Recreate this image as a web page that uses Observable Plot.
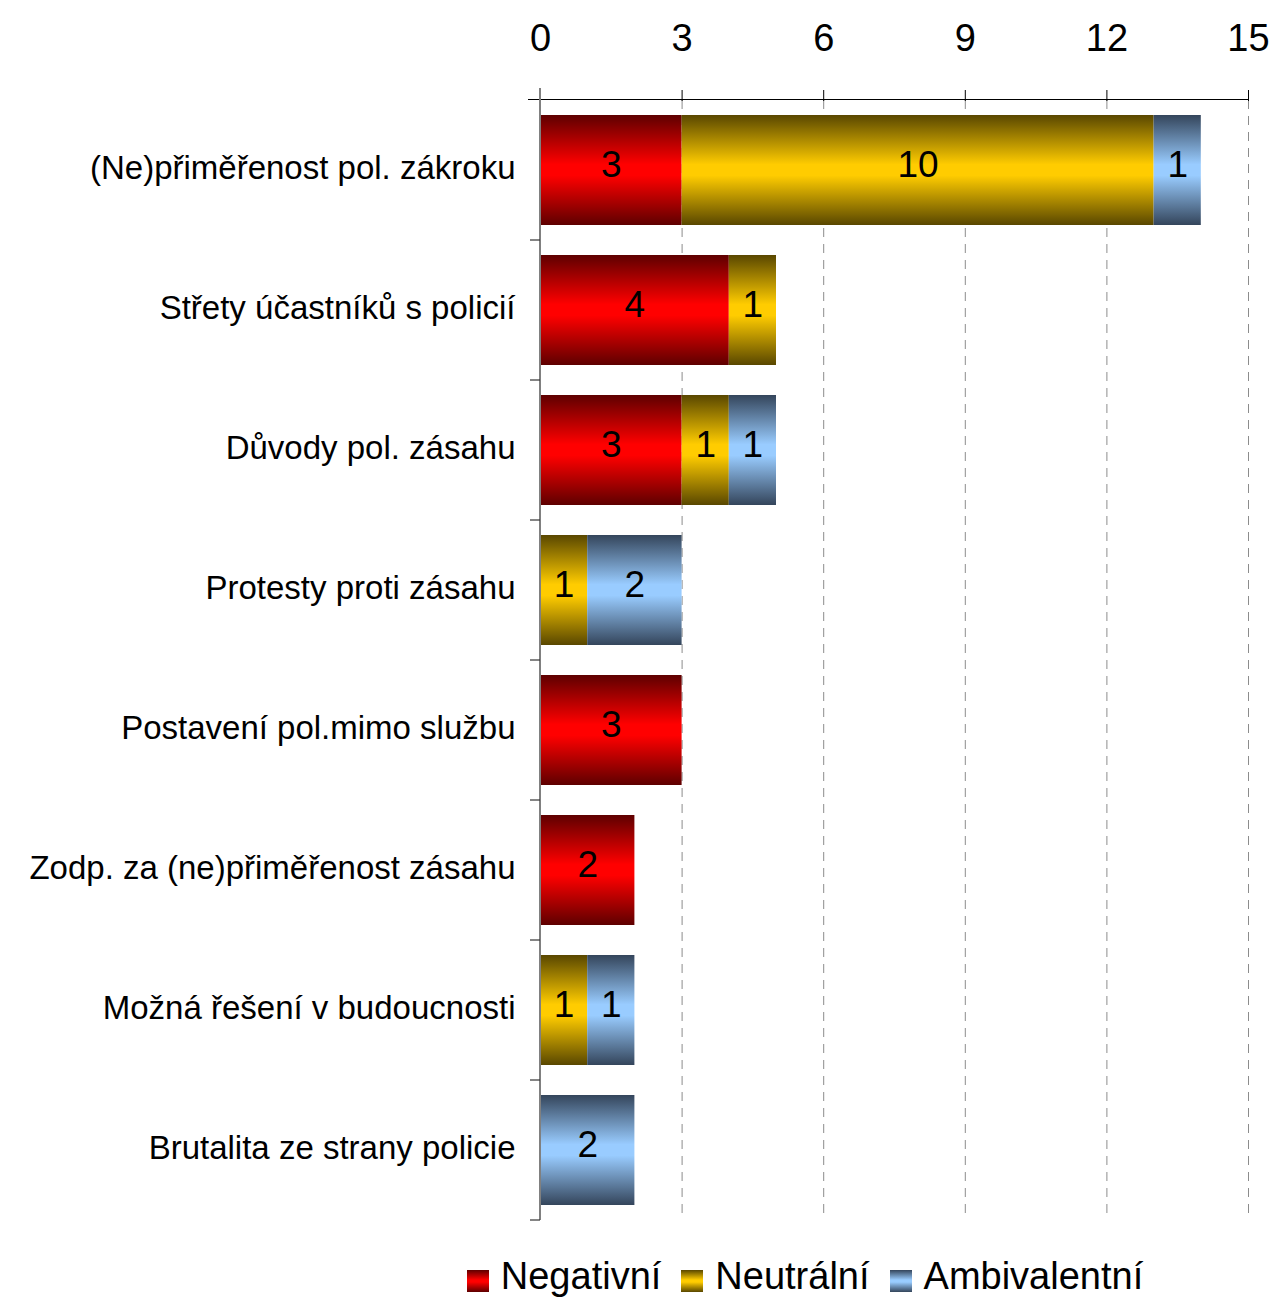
<!DOCTYPE html>
<html>
<head>
<meta charset="utf-8">
<script src="https://cdn.jsdelivr.net/npm/d3@7"></script>
<script src="https://cdn.jsdelivr.net/npm/@observablehq/plot@0.6"></script>
<style>
  body { margin: 0; background: #fff; font-family: "Liberation Sans", Arial, sans-serif; }
  #legend { display: flex; justify-content: center; align-items: center; height: 57px; padding-left: 355px; padding-top: 15px; box-sizing: border-box; width: 1275px; }
  .item { display: flex; align-items: center; margin-right: 20px; font-size: 38px; line-height: 44px; color: #000; }
  .item svg { margin-right: 12px; margin-top: 10px; }
</style>
</head>
<body>
<div id="chart"></div>
<div id="legend"></div>
<script>
const categories = [
  "(Ne)přiměřenost pol. zákroku",
  "Střety účastníků s policií",
  "Důvody pol. zásahu",
  "Protesty proti zásahu",
  "Postavení pol.mimo službu",
  "Zodp. za (ne)přiměřenost zásahu",
  "Možná řešení v budoucnosti",
  "Brutalita ze strany policie"
];
const seriesNames = ["Negativní", "Neutrální", "Ambivalentní"];
const negativni = [3, 4, 3, 0, 3, 2, 0, 0];
const neutralni = [10, 1, 1, 1, 0, 0, 1, 0];
const ambivalentni = [1, 0, 1, 2, 0, 0, 1, 2];
const xTicks = [0, 3, 6, 9, 12, 15];

const seriesValues = [negativni, neutralni, ambivalentni];
const gradIds = ["gNeg", "gNeu", "gAmb"];
const gradColors = [
  ["#5e0000", "#ff0000"],
  ["#594700", "#ffcc00"],
  ["#34455b", "#99ccff"]
];

const data = [];
seriesNames.forEach((s, si) => {
  categories.forEach((c, ci) => {
    const v = seriesValues[si][ci];
    if (v > 0) data.push({category: c, series: s, value: v});
  });
});

const font = "Liberation Sans, Arial, sans-serif";

const axisFrame = (index, scales, values, dims) => {
  const {x} = scales;
  const {height, marginTop, marginBottom} = dims;
  const g = d3.create("svg:g");
  const x0 = x(0);
  const step = (height - marginTop - marginBottom) / categories.length;
  g.append("line")
    .attr("x1", x0 - 12).attr("x2", x(15))
    .attr("y1", marginTop - 0.5).attr("y2", marginTop - 0.5)
    .attr("stroke", "#000").attr("stroke-width", 1.2);
  g.append("line")
    .attr("x1", x0).attr("x2", x0)
    .attr("y1", marginTop - 12).attr("y2", height - marginBottom)
    .attr("stroke", "#808080").attr("stroke-width", 2);
  for (let i = 1; i <= categories.length; i++) {
    const yy = marginTop + i * step;
    g.append("line")
      .attr("x1", x0 - 10).attr("x2", x0)
      .attr("y1", yy).attr("y2", yy)
      .attr("stroke", "#333").attr("stroke-width", 1.2);
  }
  return g.node();
};

const chart = Plot.plot({
  width: 1275,
  height: 1240,
  marginTop: 100,
  marginBottom: 20,
  marginLeft: 540,
  marginRight: 27,
  style: {fontFamily: font, background: "#fff", color: "#000"},
  x: {domain: [0, 15], axis: null},
  y: {domain: categories, paddingInner: 0.214, paddingOuter: 0.107, axis: null},
  color: {domain: seriesNames, range: gradIds.map(id => `url(#${id})`)},
  marks: [
    Plot.gridX(xTicks.slice(1), {stroke: "#8c8c8c", strokeOpacity: 1, strokeDasharray: "9,7", strokeWidth: 1}),
    Plot.barX(data, Plot.stackX({x: "value", y: "category", fill: "series", z: "series", order: seriesNames})),
    Plot.text(data, Plot.stackX({x: "value", y: "category", z: "series", order: seriesNames, text: d => String(d.value), fontSize: 37, dy: -5, fill: "#000"})),
    Plot.axisX(xTicks, {anchor: "top", tickSize: 11, tickPadding: 39, fontSize: 38, stroke: "#000", fill: "#000", label: null}),
    Plot.axisY({anchor: "left", tickSize: 0, tickPadding: 25, fontSize: 33, dy: -2, fill: "#000", label: null}),
    axisFrame
  ]
});

const defs = `<defs>${gradIds.map((id, i) => `
  <linearGradient id="${id}" x1="0" y1="0" x2="0" y2="1">
    <stop offset="0" stop-color="${gradColors[i][0]}"/>
    <stop offset="0.45" stop-color="${gradColors[i][1]}"/>
    <stop offset="0.55" stop-color="${gradColors[i][1]}"/>
    <stop offset="1" stop-color="${gradColors[i][0]}"/>
  </linearGradient>`).join("")}</defs>`;
chart.insertAdjacentHTML("afterbegin", defs);
document.getElementById("chart").appendChild(chart);

const legend = document.getElementById("legend");
seriesNames.forEach((s, i) => {
  const item = document.createElement("div");
  item.className = "item";
  item.innerHTML = `<svg width="22" height="22"><rect width="22" height="22" fill="url(#${gradIds[i]})"/></svg><span>${s}</span>`;
  legend.appendChild(item);
});
</script>
</body>
</html>
